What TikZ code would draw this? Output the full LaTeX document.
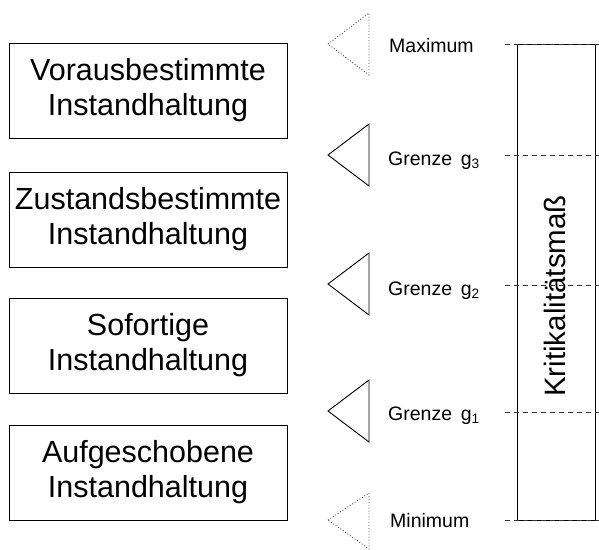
\documentclass[tikz,border=0pt]{standalone}
\usepackage{fontspec}
\setmainfont{Liberation Sans}
\begin{document}
\begin{tikzpicture}[x=1pt,y=-1pt,
  strategy/.style={draw=black, line width=1pt, minimum width=278pt, minimum height=95pt,
    align=center, inner sep=0pt, font=\fontsize{30.5}{35}\selectfont},
  levellabel/.style={anchor=base west, inner sep=0pt, font=\fontsize{19.5}{22}\selectfont},
  levelline/.style={draw=black!80, line width=1pt, dash pattern=on 5pt off 4pt},
  marker/.style={draw=black, line width=0.9pt},
  openmarker/.style={draw=black!70, line width=0.9pt, dotted}]
  \useasboundingbox (0,0) rectangle (599,549);

  % maintenance strategies
  \node[strategy] (s1) at (148,90.5)  {Vorausbestimmte\\Instandhaltung};
  \node[strategy] (s2) at (148,219.5) {Zustandsbestimmte\\Instandhaltung};
  \node[strategy] (s3) at (148,345.5) {Sofortige\\Instandhaltung};
  \node[strategy] (s4) at (148,472.5) {Aufgeschobene\\Instandhaltung};

  % criticality scale
  \node[draw=black, line width=1pt, minimum width=78pt, minimum height=476pt, inner sep=0pt]
    (scale) at (556,282) {};
  \node[rotate=90, font=\fontsize{29.5}{33}\selectfont] (title) at (555,296) {Kritikalitätsmaß};

  % level lines
  \coordinate (lmax) at (505,44);
  \coordinate (lg3) at (505,155);
  \coordinate (lg2) at (505,285);
  \coordinate (lg1) at (505,412);
  \coordinate (lmin) at (505,520);
  \foreach \c in {lmax,lg3,lg2,lg1,lmin}
    \draw[levelline] (\c) -- ++(94,0);

  % level labels
  \node[levellabel] (tmax) at (389,52)  {Maximum};
  \node[levellabel] (tg3)  at (388,165) {Grenze\, g\textsubscript{3}};
  \node[levellabel] (tg2)  at (388,295) {Grenze\, g\textsubscript{2}};
  \node[levellabel] (tg1)  at (388,420) {Grenze\, g\textsubscript{1}};
  \node[levellabel] (tmin) at (390,527) {Minimum};

  % pointers
  \draw[openmarker] (328,44)  -- (369,13)  -- (369,75)  -- cycle;
  \draw[marker]     (328,155) -- (369,124) -- (369,186) -- cycle;
  \draw[marker]     (328,284) -- (369,253) -- (369,315) -- cycle;
  \draw[marker]     (328,411) -- (369,380) -- (369,442) -- cycle;
  \draw[openmarker] (328,520) -- (369,493) -- (369,549) -- cycle;
\end{tikzpicture}
\end{document}
